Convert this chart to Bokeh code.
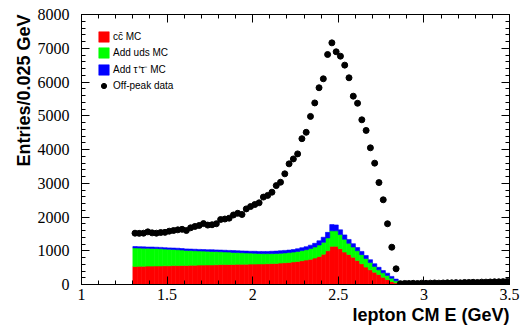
import numpy as np
from bokeh.plotting import figure
from bokeh.models import (Range1d, LinearAxis, SingleIntervalTicker, Title, Legend,
                          LegendItem, CustomJSTickFormatter, BasicTickFormatter)
from bokeh.embed import file_html
from bokeh.resources import INLINE

# ---------------- data ----------------
bin_start = 1.3
bin_width = 0.025

# MC components (stacked), bins from 1.3 to 2.85
cc_mc = [535, 540, 540, 545, 545, 550, 550, 555, 555, 560,
         560, 565, 565, 570, 570, 575, 575, 580, 580, 585,
         590, 590, 595, 595, 600, 600, 600, 605, 605, 610,
         610, 615, 620, 625, 635, 645, 655, 670, 685, 705,
         725, 750, 785, 830, 900, 1000, 1130, 1135, 1060, 960,
         890, 810, 710, 615, 515, 435, 365, 295, 215, 150,
         90, 50]
uds_mc = [550, 540, 535, 530, 525, 515, 510, 495, 490, 480,
          470, 455, 445, 435, 430, 420, 415, 405, 400, 390,
          380, 375, 365, 355, 345, 340, 335, 325, 320, 310,
          305, 300, 295, 295, 290, 290, 290, 290, 295, 300,
          305, 315, 325, 340, 350, 380, 460, 455, 420, 380,
          330, 300, 290, 270, 255, 215, 170, 140, 130, 120,
          95, 60]
tau_mc = [40, 40, 40, 35, 40, 40, 40, 40, 40, 40,
          45, 45, 45, 45, 45, 45, 45, 45, 50, 50,
          50, 50, 50, 55, 55, 55, 55, 55, 60, 60,
          65, 65, 70, 70, 75, 75, 75, 75, 80, 85,
          90, 100, 110, 125, 150, 165, 185, 175, 140, 130,
          115, 100, 95, 95, 90, 85, 80, 75, 70, 65,
          55, 50]

# Off-peak data, bins from 1.3 to 3.5
offpeak = [1520, 1515, 1520, 1560, 1530, 1520, 1540, 1545, 1580, 1600,
           1620, 1635, 1600, 1680, 1720, 1750, 1805, 1760, 1770, 1800,
           1925, 1940, 1965, 2060, 2110, 2075, 2240, 2310, 2370, 2420,
           2590, 2640, 2735, 2930, 3030, 3280, 3575, 3720, 3870, 4320,
           4510, 4980, 5380, 5830, 6095, 6815, 7160, 6895, 6765, 6500,
           6125, 5580, 5370, 4880, 4565, 4050, 3595, 3020, 2510, 1800,
           1105, 465, 25, 30, 30, 35, 30, 40, 35, 40,
           45, 40, 45, 50, 50, 55, 50, 60, 60, 65,
           60, 70, 70, 75, 80, 80, 85, 90]

x_ticks_interval = 0.5
y_ticks_interval = 1000

labels = ["cc\u0304 MC", "Add uds MC", "Add \u03c4\u207a\u03c4\u207b MC", "Off-peak data"]
colors = ["#ff0000", "#00ff00", "#0000ff"]

# ---------------- derived ----------------
n_mc = len(cc_mc)
left = bin_start + bin_width * np.arange(n_mc)
right = left + bin_width
c1 = np.array(cc_mc, dtype=float)
c2 = c1 + np.array(uds_mc)
c3 = c2 + np.array(tau_mc)
xd = bin_start + bin_width * (np.arange(len(offpeak)) + 0.5)

p = figure(width=520, height=332, output_backend="svg", toolbar_location=None,
           x_range=Range1d(1, 3.5), y_range=Range1d(0, 8000),
           min_border_left=81, min_border_right=11, min_border_top=14, min_border_bottom=48)
p.xgrid.visible = False
p.ygrid.visible = False
p.outline_line_color = "black"
p.outline_line_width = 1
p.background_fill_color = "white"
p.border_fill_color = "white"

r_red = p.quad(left=left, right=right, bottom=0, top=c1, fill_color=colors[0],
               line_color=colors[0], line_width=0.6)
r_grn = p.quad(left=left, right=right, bottom=c1, top=c2, fill_color=colors[1],
               line_color=colors[1], line_width=0.6)
r_blu = p.quad(left=left, right=right, bottom=c2, top=c3, fill_color=colors[2],
               line_color=colors[2], line_width=0.6)
r_dat = p.scatter(xd, offpeak, size=6, marker="circle", fill_color="black", line_color="black")

xfmt = CustomJSTickFormatter(code="return String(Math.round(tick*10)/10)")


def style(ax, interval, show_labels):
    ax.ticker = SingleIntervalTicker(interval=interval, num_minor_ticks=5)
    ax.major_tick_in = 8
    ax.major_tick_out = 0
    ax.minor_tick_in = 4
    ax.minor_tick_out = 0
    ax.axis_line_color = "black"
    ax.major_tick_line_color = "black"
    ax.minor_tick_line_color = "black"
    ax.major_label_text_font = "Liberation Serif"
    ax.major_label_text_font_size = "16px"
    ax.major_label_text_color = "black"
    if not show_labels:
        ax.major_label_text_font_size = "1px"
        ax.major_label_text_color = None
        ax.major_label_standoff = 0


style(p.xaxis[0], x_ticks_interval, True)
p.xaxis[0].formatter = xfmt
p.xaxis[0].major_label_standoff = 4
style(p.yaxis[0], y_ticks_interval, True)
p.yaxis[0].formatter = BasicTickFormatter(use_scientific=False)
p.yaxis[0].major_label_standoff = 12

top_ax = LinearAxis()
style(top_ax, x_ticks_interval, False)
p.add_layout(top_ax, "above")
right_ax = LinearAxis()
style(right_ax, y_ticks_interval, False)
p.add_layout(right_ax, "right")

p.add_layout(Title(text="lepton CM E (GeV)", align="right", text_font="Liberation Sans",
                   text_font_style="bold", text_font_size="18px", text_color="black",
                   standoff=0), "below")
p.add_layout(Title(text="Entries/0.025 GeV", align="right", text_font="Liberation Sans",
                   text_font_style="bold", text_font_size="18px", text_color="black",
                   standoff=2), "left")

legend = Legend(items=[LegendItem(label=labels[0], renderers=[r_red]),
                       LegendItem(label=labels[1], renderers=[r_grn]),
                       LegendItem(label=labels[2], renderers=[r_blu]),
                       LegendItem(label=labels[3], renderers=[r_dat])],
                location="top_left", margin=16, padding=0, spacing=3,
                glyph_width=13, glyph_height=13, label_height=13, label_standoff=3,
                label_text_font="Liberation Sans", label_text_font_size="10px",
                label_text_color="black",
                border_line_color=None, background_fill_alpha=0)
p.add_layout(legend)

open("out.html", "w").write(file_html(p, INLINE))
